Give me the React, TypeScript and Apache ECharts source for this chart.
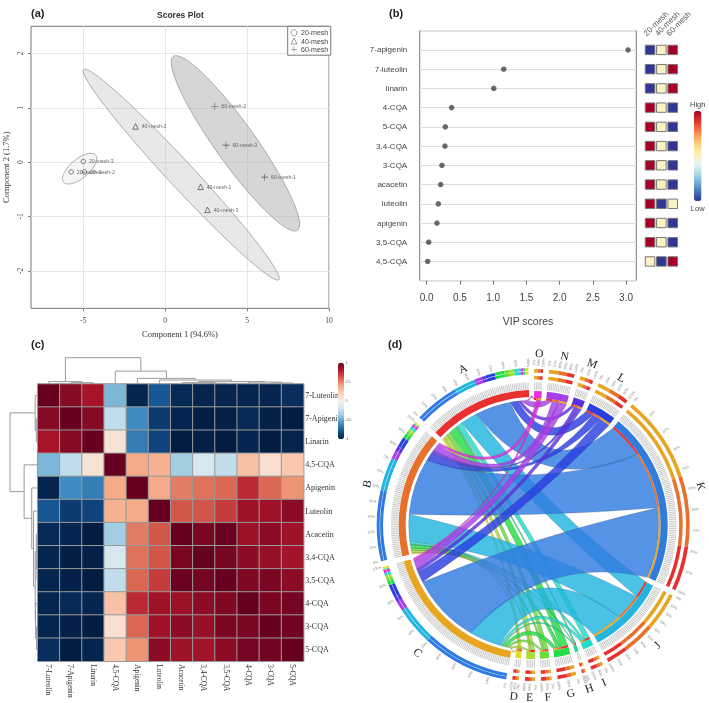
import React, { useEffect, useRef } from "react";
import * as echarts from "echarts";

const SERIF = "Liberation Serif";
const SANS = "Liberation Sans";

// ---- panel (a) ----
const xTicksA = [-5, 0, 5, 10];
const yTicksA = [-2, -1, 0, 1, 2];
const points20 = [[-5.74, -0.18], [-4.93, -0.18], [-5.0, 0.012]];
const points40 = [[2.16, -0.455], [-1.81, 0.657], [2.585, -0.878]];
const points60 = [[6.07, -0.276], [3.03, 1.03], [3.71, 0.313]];
// centre x, centre y, major half-axis dx, dy, minor half-axis dx, dy, fill opacity
const ellipse20 = [-5.22, -0.12, 0.98, 0.249, 0.373, -0.134, 0.13];
const ellipse40 = [0.977, -0.23, 5.96, -1.935, 0.582, 0.163, 0.29];
const ellipse60 = [4.29, 0.346, 3.79, -1.6, 0.995, 0.214, 0.52];

// ---- panel (b) ----
const compounds = ["7-apigenin", "7-luteolin", "linarin", "4-CQA", "5-CQA", "3,4-CQA", "3-CQA", "acacetin", "luteolin", "apigenin", "3,5-CQA", "4,5-CQA"];
const vipScores = [3.03, 1.16, 1.01, 0.375, 0.28, 0.275, 0.23, 0.21, 0.175, 0.155, 0.03, 0.015];
const meshNames = ["20-mesh", "40-mesh", "60-mesh"];
const tiles20 = [0, 0, 0, 1, 1, 1, 1, 1, 1, 1, 1, 0.5];
const tiles40 = [0.5, 0.5, 0.5, 0.5, 0.5, 0.5, 0.5, 0.5, 0, 0.5, 0.5, 0];
const tiles60 = [1, 1, 1, 0, 0, 0, 0, 0, 0.5, 0, 0, 1];
const vipTicks = [0, 0.5, 1, 1.5, 2, 2.5, 3];

// ---- panel (c) ----
const heatLabels = ["7-Luteolin", "7-Apigenin", "Linarin", "4,5-CQA", "Apigenin", "Luteolin", "Acacetin", "3,4-CQA", "3,5-CQA", "4-CQA", "3-CQA", "5-CQA"];
const corrRows = [
  [1, 0.92, 0.83, -0.45, -0.97, -0.78, -0.95, -0.97, -0.97, -0.97, -0.97, -0.93],
  [0.92, 1, 0.92, -0.25, -0.6, -0.88, -0.96, -0.99, -0.98, -0.95, -0.98, -0.995],
  [0.83, 0.92, 1, 0.1, -0.65, -0.85, -1, -0.98, -1, -0.96, -1, -0.97],
  [-0.45, -0.25, 0.1, 1, 0.38, 0.35, -0.35, -0.17, -0.25, 0.28, 0.12, 0.25],
  [-0.97, -0.6, -0.65, 0.38, 1, 0.38, 0.52, 0.55, 0.58, 0.75, 0.58, 0.45],
  [-0.78, -0.88, -0.85, 0.35, 0.38, 1, 0.62, 0.63, 0.7, 0.85, 0.85, 0.9],
  [-0.95, -0.96, -1, -0.35, 0.52, 0.62, 1, 0.95, 0.99, 0.86, 0.9, 0.85],
  [-0.97, -0.99, -0.98, -0.17, 0.55, 0.63, 0.95, 1, 0.96, 0.9, 0.87, 0.84],
  [-0.97, -0.98, -1, -0.25, 0.58, 0.7, 0.99, 0.96, 1, 0.93, 0.95, 0.9],
  [-0.97, -0.95, -0.96, 0.28, 0.75, 0.85, 0.86, 0.9, 0.93, 1, 0.95, 0.96],
  [-0.97, -0.98, -1, 0.12, 0.58, 0.85, 0.9, 0.87, 0.95, 0.95, 1, 0.97],
  [-0.93, -0.995, -0.97, 0.25, 0.45, 0.9, 0.85, 0.84, 0.9, 0.96, 0.97, 1],
];
// dendrogram merges: two node ids (0-11 leaves, 12+ earlier merges) and height
const merges = [
  [1, 2, 0.05], [0, 12, 0.09], [7, 8, 0.025], [6, 14, 0.05], [10, 11, 0.04], [9, 16, 0.075],
  [15, 17, 0.09], [5, 18, 0.15], [4, 19, 0.215], [3, 20, 0.49], [13, 21, 1],
];
const rdBu = ["#021c42", "#15508f", "#3f8cc2", "#92c5de", "#d1e5f0", "#f3f0ee", "#fbd3bd", "#f4a582", "#d6604d", "#b2182b", "#67001f"];
const rdYlBu = ["#313695", "#4575b4", "#74add1", "#abd9e9", "#e0f3f8", "#fbf3c4", "#fee090", "#fdae61", "#f46d43", "#d73027", "#a50026"];

// ---- panel (d) ----
const sectorOrder = ["O", "N", "M", "L", "K", "J", "I", "H", "G", "F", "E", "D", "C", "B", "A"];
const sectorColors: Record<string, string> = {
  O: "#e82ce0", N: "#a83ee8", M: "#5a30e0", L: "#2a3ee0", K: "#2f7be0", J: "#22b5e0", I: "#22dcc8",
  H: "#22d890", G: "#22dd44", F: "#66dd33", E: "#a8dd33", D: "#e0dd22", C: "#e8a522", B: "#e8702a", A: "#e83030",
};
const chordTargets = ["D", "E", "F", "G", "H", "I", "J", "K", "L", "M", "N", "O"];
const flowA = [1.2, 1.8, 1.9, 3.6, 0.7, 2.4, 8, 16.8, 3.6, 1.5, 2.8, 1];
const flowB = [0.6, 1.0, 1.1, 1.8, 0.4, 1.2, 12.4, 26.6, 4, 1.7, 3.2, 1.1];
const flowC = [0.7, 1.0, 1.0, 1.7, 0.4, 1.1, 14.5, 33, 4.9, 1.9, 3.7, 1.2];
const outerOrder = ["K", "J", "N", "M", "L", "G", "F", "E", "I", "O", "H", "D"];

const GAP = 2.2;
const R = 125;

function chordLayout() {
  const flows: Record<string, number[]> = { A: flowA, B: flowB, C: flowC };
  const size: Record<string, number> = {};
  ["A", "B", "C"].forEach((s) => (size[s] = flows[s].reduce((a, b) => a + b, 0)));
  chordTargets.forEach((t, i) => (size[t] = flowA[i] + flowB[i] + flowC[i]));
  const total = sectorOrder.reduce((a, s) => a + size[s], 0);
  const k = (360 - GAP * sectorOrder.length) / total;
  const sec: Record<string, [number, number]> = {};
  let cur = 0.2;
  sectorOrder.forEach((s) => {
    sec[s] = [cur, cur + size[s] * k];
    cur += size[s] * k + GAP;
  });
  const srcCur: Record<string, number> = { A: sec.A[0], B: sec.B[0], C: sec.C[0] };
  const ribbons: any[] = [];
  const bands: any[] = [];
  chordTargets.forEach((t, i) => {
    let tc = sec[t][0];
    ["A", "B", "C"].forEach((s) => {
      const w = flows[s][i] * k;
      ribbons.push({ color: sectorColors[t], s0: srcCur[s], s1: srcCur[s] + w, t0: tc, t1: tc + w });
      bands.push({ color: sectorColors[s], a0: tc, a1: tc + w, r0: 125, r1: 127 });
      srcCur[s] += w;
      tc += w;
    });
  });
  const rings: any[] = [];
  const stripes: any[] = [];
  const outer: any[] = [];
  const ticks: any[] = [];
  sectorOrder.forEach((s) => {
    const [a0, a1] = sec[s];
    const isSource = s === "A" || s === "B" || s === "C";
    rings.push({ color: sectorColors[s], a0, a1, r0: isSource ? 128 : 127, r1: isSource ? 135 : 134 });
    stripes.push({ a0, a1, r: 139 });
    const radii = isSource ? [[150.6, 153.6], [154, 157]] : [[145.5, 149], [152.3, 156]];
    radii.forEach(([r0, r1]) => {
      let c = a0;
      if (isSource) {
        const arr = flows[s];
        outerOrder.forEach((t) => {
          const w = arr[chordTargets.indexOf(t)] * k;
          outer.push({ color: sectorColors[t], a0: c, a1: c + w, r0, r1 });
          c += w;
        });
      } else {
        const i = chordTargets.indexOf(s);
        (["C", "B", "A"] as const).forEach((src) => {
          const w = flows[src][i] * k;
          outer.push({ color: sectorColors[src], a0: c, a1: c + w, r0, r1 });
          c += w;
        });
      }
    });
    const ext = a1 - a0;
    const step = ext > 30 ? 10 : ext > 8 ? 20 : 50;
    for (let p = 0; p <= 100; p += step) {
      ticks.push({ text: p + "%", a: a0 + (ext * p) / 100 });
    }
  });
  const letters = sectorOrder.map((s) => ({ text: s, a: (sec[s][0] + sec[s][1]) / 2 }));
  return { ribbons, bands, rings, stripes, outer, ticks, letters };
}

function polarLayer(items: any[], build: (it: any, P: (r: number, a: number) => number[]) => any) {
  return {
    type: "custom",
    coordinateSystem: "polar",
    polarIndex: 0,
    silent: true,
    data: items.map((_, i) => [i, 0]),
    renderItem: (params: any, api: any) => build(items[params.dataIndex], (r, a) => api.coord([r, a])),
  };
}

const pt = (p: number[]) => p[0].toFixed(2) + " " + p[1].toFixed(2);

function ringPath(it: any, P: any) {
  const { a0, a1, r0, r1 } = it;
  return (
    `M${pt(P(r1, a0))}A${r1} ${r1} 0 0 1 ${pt(P(r1, a1))}` +
    `L${pt(P(r0, a1))}A${r0} ${r0} 0 0 0 ${pt(P(r0, a0))}Z`
  );
}

function ctrlRadius(a: number, b: number) {
  let d = Math.abs(a - b) % 360;
  if (d > 180) d = 360 - d;
  let f;
  if (d < 60) f = 0.2 + 0.9 * (1 - d / 60);
  else if (d < 120) f = 0.2 + ((d - 60) * 0.07) / 60;
  else f = (0.27 * (180 - d)) / 60;
  return R * f;
}
function bisect(a: number, b: number) {
  let d = b - a;
  while (d > 180) d -= 360;
  while (d < -180) d += 360;
  return a + d / 2;
}

function ribbonPath(it: any, P: any) {
  const { s0, s1, t0, t1 } = it;
  const c1 = P(ctrlRadius(s1, t0), bisect(s1, t0));
  const c2 = P(ctrlRadius(t1, s0), bisect(t1, s0));
  return (
    `M${pt(P(R, s0))}A${R} ${R} 0 0 1 ${pt(P(R, s1))}` +
    `Q${pt(c1)} ${pt(P(R, t0))}A${R} ${R} 0 0 1 ${pt(P(R, t1))}` +
    `Q${pt(c2)} ${pt(P(R, s0))}Z`
  );
}

function dendroLinks() {
  const pos: number[] = [];
  const hgt: number[] = [];
  for (let i = 0; i < 12; i++) {
    pos[i] = i + 0.5;
    hgt[i] = 0;
  }
  return merges.map(([a, b, h], i) => {
    pos[12 + i] = (pos[a] + pos[b]) / 2;
    hgt[12 + i] = h;
    return [pos[a], pos[b], hgt[a], hgt[b], h];
  });
}

function dendroSeries(xi: number, horizontal: boolean) {
  return {
    type: "custom",
    xAxisIndex: xi,
    yAxisIndex: xi,
    silent: true,
    data: dendroLinks(),
    encode: { x: horizontal ? 0 : 4, y: horizontal ? 4 : 0 },
    renderItem: (_: any, api: any) => {
      const [p1, p2, h1, h2, h] = [0, 1, 2, 3, 4].map((d) => api.value(d));
      const C = (p: number, v: number) => api.coord(horizontal ? [p, v] : [v, p]);
      return {
        type: "polyline",
        shape: { points: [C(p1, h1), C(p1, h), C(p2, h), C(p2, h2)] },
        style: { stroke: "#9a9a9a", lineWidth: 1, fill: "none" },
      };
    },
  };
}

function ellipseSeries(e: number[]) {
  return {
    type: "custom",
    xAxisIndex: 0,
    yAxisIndex: 0,
    silent: true,
    data: [e],
    encode: { x: 0, y: 1 },
    renderItem: (_: any, api: any) => {
      const [cx, cy, ax, ay, bx, by, op] = [0, 1, 2, 3, 4, 5, 6].map((d) => api.value(d));
      const pts: number[][] = [];
      for (let i = 0; i < 90; i++) {
        const t = (i / 90) * Math.PI * 2;
        pts.push(api.coord([cx + ax * Math.cos(t) + bx * Math.sin(t), cy + ay * Math.cos(t) + by * Math.sin(t)]));
      }
      return {
        type: "polygon",
        shape: { points: pts },
        style: { fill: `rgba(176,176,176,${op})`, stroke: "#9a9a9a", lineWidth: 0.8 },
      };
    },
  };
}

const PLUS = "path://M4.6 0h0.8v4.6h4.6v0.8h-4.6v4.6h-0.8v-4.6h-4.6v-0.8h4.6z";

function scoreSeries(name: string, pts: number[][], symbol: string, size: number, filled: boolean) {
  return {
    type: "scatter",
    name,
    xAxisIndex: 0,
    yAxisIndex: 0,
    symbol,
    symbolSize: size,
    silent: true,
    itemStyle: filled
      ? { color: "#333", borderWidth: 0 }
      : { color: "transparent", borderColor: "#333", borderWidth: 0.8 },
    label: { show: true, position: "right", distance: 3, fontSize: 5.2, color: "#444", fontFamily: SANS, formatter: (p: any) => p.name },
    data: pts.map((v, i) => ({ name: `${name}-${i + 1}`, value: v })),
  };
}

function buildOption() {
  const d = chordLayout();
  const heatData: number[][] = [];
  corrRows.forEach((row, y) => row.forEach((v, x) => heatData.push([x, y, v])));
  const tileData: number[][] = [];
  [tiles20, tiles40, tiles60].forEach((col, x) => col.forEach((v, y) => tileData.push([x, y + 1, v])));

  const panelTitle = (text: string, left: number, top: number) => ({
    text, left, top, padding: 0,
    textStyle: { fontSize: 11, fontWeight: "bold", color: "#222", fontFamily: SANS },
  });
  const noLine = { show: false, onZero: false };

  return {
    animation: false,
    backgroundColor: "#fff",
    title: [
      panelTitle("(a)", 31, 7),
      panelTitle("(b)", 389, 7),
      panelTitle("(c)", 31, 338),
      panelTitle("(d)", 388, 338),
      { text: "Scores Plot", left: 157, top: 10.5, padding: 0, textStyle: { fontSize: 8.5, fontWeight: "bold", color: "#333", fontFamily: SANS } },
    ],
    legend: {
      data: ["20-mesh", "40-mesh", "60-mesh"],
      orient: "vertical",
      left: 287.7,
      top: 26.3,
      padding: [3, 2.5, 2.5, 3],
      itemGap: 1.2,
      itemWidth: 6,
      itemHeight: 6,
      selectedMode: false,
      backgroundColor: "#fff",
      borderColor: "#777",
      borderWidth: 1,
      itemStyle: { borderWidth: 0.6 },
      textStyle: { fontSize: 7, color: "#444", fontFamily: SANS, padding: [0, 0, 0, -1] },
    },
    grid: [
      { left: 31, top: 26.3, width: 298, height: 282, show: true, borderColor: "#777", borderWidth: 1, backgroundColor: "transparent" },
      { left: 419.7, top: 30.7, width: 216.6, height: 250, show: true, borderColor: "#777", borderWidth: 1, backgroundColor: "transparent" },
      { left: 644.4, top: 30.7, width: 34, height: 250 },
      { left: 37.7, top: 384, width: 266, height: 277.3 },
      { left: 37.7, top: 357.7, width: 266, height: 26.3 },
      { left: 10, top: 384, width: 27.7, height: 277.3 },
      { left: 338, top: 362.7, width: 6, height: 76.6 },
    ],
    xAxis: [
      {
        gridIndex: 0, type: "value", min: -8.19, max: 10,
        name: "Component 1 (94.6%)", nameLocation: "middle", nameGap: 21,
        nameTextStyle: { fontFamily: SERIF, fontSize: 8.5, color: "#333" },
        axisLine: noLine,
        axisTick: { show: true, length: 3, customValues: xTicksA, lineStyle: { color: "#777" } },
        axisLabel: { customValues: xTicksA, fontFamily: SERIF, fontSize: 7.5, color: "#444", margin: 8.5 },
        splitLine: { show: true, lineStyle: { color: "#e6e6e6" } },
      },
      {
        gridIndex: 1, type: "value", min: -0.105, max: 3.154,
        name: "VIP scores", nameLocation: "middle", nameGap: 35,
        nameTextStyle: { fontFamily: SANS, fontSize: 10.5, color: "#444" },
        axisLine: noLine,
        axisTick: { show: true, length: 4, customValues: vipTicks, lineStyle: { color: "#777" } },
        axisLabel: { customValues: vipTicks, fontFamily: SANS, fontSize: 10, color: "#444", margin: 12, formatter: (v: number) => v.toFixed(1) },
        splitLine: { show: false },
      },
      { gridIndex: 2, type: "category", data: meshNames, show: false },
      {
        gridIndex: 3, type: "category", data: heatLabels, position: "bottom",
        axisLine: noLine, axisTick: { show: false },
        axisLabel: { interval: 0, rotate: -90, fontFamily: SERIF, fontSize: 7.3, color: "#333", margin: 3 },
      },
      { gridIndex: 4, type: "value", min: 0, max: 12, show: false },
      { gridIndex: 5, type: "value", min: 0, max: 1, inverse: true, show: false },
      { gridIndex: 6, type: "value", min: 0, max: 1, show: false },
    ],
    yAxis: [
      {
        gridIndex: 0, type: "value", min: -2.69, max: 2.5,
        name: "Component 2 (1.7%)", nameLocation: "middle", nameGap: 21,
        nameTextStyle: { fontFamily: SERIF, fontSize: 8.5, color: "#333" },
        axisLine: noLine,
        axisTick: { show: true, length: 3, customValues: yTicksA, lineStyle: { color: "#777" } },
        axisLabel: { customValues: yTicksA, rotate: 90, fontFamily: SERIF, fontSize: 7.5, color: "#444", margin: 7 },
        splitLine: { show: true, lineStyle: { color: "#e6e6e6" } },
      },
      {
        gridIndex: 1, type: "value", min: 0, max: 13, interval: 1, inverse: true,
        axisLine: noLine, axisTick: { show: false },
        axisLabel: { fontFamily: SANS, fontSize: 8, color: "#444", margin: 12.5, formatter: (v: number) => compounds[v - 1] || "" },
        splitLine: { show: true, lineStyle: { color: "#dedede", width: 1 } },
      },
      { gridIndex: 2, type: "value", min: 0, max: 13, inverse: true, show: false },
      {
        gridIndex: 3, type: "category", data: heatLabels, inverse: true, position: "right",
        axisLine: noLine, axisTick: { show: false },
        axisLabel: { interval: 0, fontFamily: SERIF, fontSize: 8, color: "#333", margin: 1.5 },
      },
      { gridIndex: 4, type: "value", min: 0, max: 1, show: false },
      { gridIndex: 5, type: "value", min: 0, max: 12, inverse: true, show: false },
      {
        gridIndex: 6, type: "value", min: -1, max: 1, interval: 0.5, position: "right",
        axisLine: noLine, axisTick: { show: false }, splitLine: { show: false },
        axisLabel: { fontSize: 3.5, color: "#555", fontFamily: SANS, margin: 1.5 },
      },
    ],
    polar: { center: [533.7, 525], radius: 180 },
    angleAxis: { min: 0, max: 360, startAngle: 90, clockwise: true, show: false },
    radiusAxis: { min: 0, max: 180, show: false },
    visualMap: [
      {
        type: "continuous", seriesIndex: 8, dimension: 2, min: -1, max: 1, calculable: false,
        left: 338, top: 362.7, padding: 0, itemWidth: 6, itemHeight: 76.6, showLabel: false,
        inRange: { color: rdBu },
      },
      {
        type: "continuous", seriesIndex: 6, dimension: 2, min: 0, max: 1, calculable: false,
        left: 690, top: 100, padding: 0, itemWidth: 7.5, itemHeight: 90, text: ["High", "Low"], textGap: 3,
        textStyle: { fontSize: 7.5, color: "#444", fontFamily: SANS },
        inRange: { color: rdYlBu },
      },
    ],
    series: [
      ellipseSeries(ellipse20),
      ellipseSeries(ellipse40),
      ellipseSeries(ellipse60),
      scoreSeries("20-mesh", points20, "circle", 4.5, false),
      scoreSeries("40-mesh", points40, "triangle", 5.5, false),
      scoreSeries("60-mesh", points60, PLUS, 7, true),
      {
        type: "custom", xAxisIndex: 2, yAxisIndex: 2, silent: true, data: tileData, encode: { x: 0, y: 1 },
        renderItem: (_: any, api: any) => {
          const c = api.coord([api.value(0), api.value(1)]);
          return {
            type: "rect",
            shape: { x: c[0] - 4.8, y: c[1] - 4.7, width: 9.6, height: 9.4 },
            style: { fill: api.visual("color"), stroke: "#777", lineWidth: 1 },
          };
        },
      },
      {
        type: "scatter", xAxisIndex: 1, yAxisIndex: 1, symbol: "circle", symbolSize: 5.5, silent: true,
        itemStyle: { color: "#444" },
        data: vipScores.map((v, i) => [v, i + 1]),
      },
      {
        type: "heatmap", xAxisIndex: 3, yAxisIndex: 3, silent: true, data: heatData,
        itemStyle: { borderColor: "#9a9a9a", borderWidth: 1 },
      },
      dendroSeries(4, true),
      dendroSeries(5, false),
      {
        type: "custom", xAxisIndex: 2, yAxisIndex: 2, silent: true,
        data: meshNames.map((_, i) => [i, 0]), encode: { x: 0, y: 1 },
        renderItem: (p: any, api: any) => {
          const c = api.coord([api.value(0), 0]);
          return {
            type: "text", x: c[0] - 5, y: c[1] + 4, rotation: Math.PI / 4,
            style: { text: meshNames[p.dataIndex], fontSize: 8, fill: "#555", fontFamily: SANS, align: "left", verticalAlign: "middle" },
          };
        },
      },
      // chord diagram
      polarLayer(d.ribbons, (it, P) => ({
        type: "path", shape: { pathData: ribbonPath(it, P) },
        style: { fill: it.color, opacity: 0.82, stroke: "#445", lineWidth: 0.25 },
      })),
      polarLayer(d.bands, (it, P) => ({ type: "path", shape: { pathData: ringPath(it, P) }, style: { fill: it.color } })),
      polarLayer(d.rings, (it, P) => ({ type: "path", shape: { pathData: ringPath(it, P) }, style: { fill: it.color } })),
      polarLayer(d.outer, (it, P) => ({ type: "path", shape: { pathData: ringPath(it, P) }, style: { fill: it.color } })),
      polarLayer(d.stripes, (it, P) => ({
        type: "path",
        shape: { pathData: `M${pt(P(it.r, it.a0))}A${it.r} ${it.r} 0 0 1 ${pt(P(it.r, it.a1))}` },
        style: { fill: "none", stroke: "#c8c8c8", lineWidth: 7.5, lineDash: [1, 0.8] },
      })),
      polarLayer(d.ticks, (it, P) => {
        const c = P(162.5, it.a);
        const rot = it.a < 180 ? 90 - it.a : 270 - it.a;
        return {
          type: "text", x: c[0], y: c[1], rotation: (rot * Math.PI) / 180,
          style: { text: it.text, fontSize: 3.6, fill: "#888", fontFamily: SANS, align: "center", verticalAlign: "middle" },
        };
      }),
      polarLayer(d.letters, (it, P) => {
        const c = P(172, it.a);
        const rot = it.a < 90 || it.a > 270 ? -it.a : 180 - it.a;
        return {
          type: "text", x: c[0], y: c[1], rotation: (rot * Math.PI) / 180,
          style: { text: it.text, fontSize: 11.5, fill: "#222", fontFamily: SERIF, align: "center", verticalAlign: "middle" },
        };
      }),
    ],
  };
}

export default function App() {
  const ref = useRef<HTMLDivElement>(null);
  useEffect(() => {
    const chart = echarts.init(ref.current!, undefined, { renderer: "svg" });
    chart.setOption(buildOption() as any);
    return () => chart.dispose();
  }, []);
  return <div ref={ref} style={{ position: "fixed", left: 0, top: 0, width: 709, height: 703, filter: "blur(0.4px)" }} />;
}
